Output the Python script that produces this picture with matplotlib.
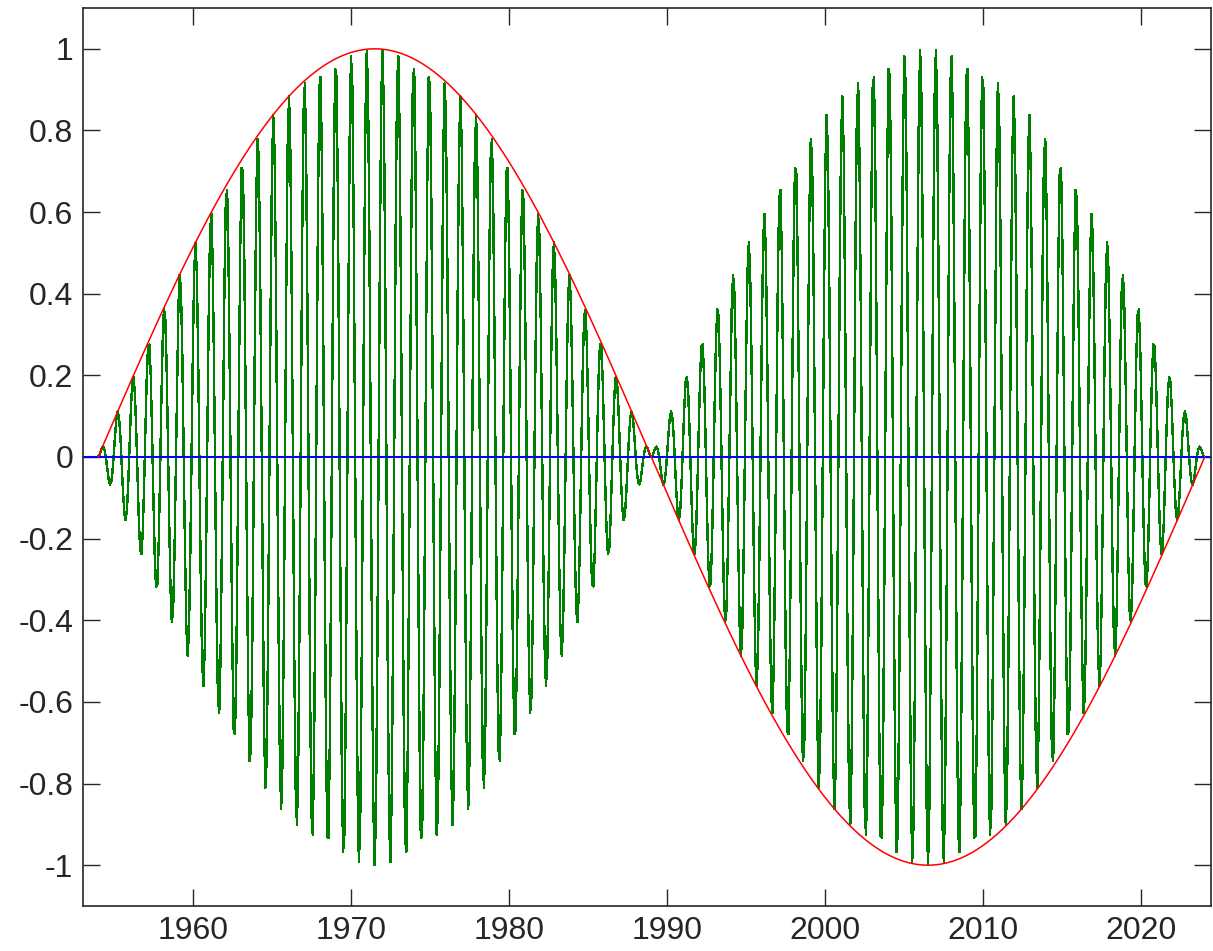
import numpy as np
import matplotlib
matplotlib.use("Agg")
import matplotlib.pyplot as plt

# time axis and signal parameters
t_start, t_end = 1954.0, 2024.0
step = 1.0 / 12.0                  # monthly samples
envelope_period = 70.0             # years
carrier_period = 70.0 / 71.0       # years

x_ticks = [1960, 1970, 1980, 1990, 2000, 2010, 2020]
y_ticks = [-1, -0.8, -0.6, -0.4, -0.2, 0, 0.2, 0.4, 0.6, 0.8, 1]
y_labels = ["-1", "-0.8", "-0.6", "-0.4", "-0.2", "0", "0.2", "0.4", "0.6", "0.8", "1"]

t = np.arange(t_start, t_end + step / 2, step)
envelope = np.sin(2 * np.pi * (t - t_start) / envelope_period)
signal = envelope * np.sin(2 * np.pi * (t - t_start) / carrier_period)

plt.rcParams["font.family"] = ["Liberation Sans", "DejaVu Sans"]
plt.rcParams["axes.unicode_minus"] = False

fig = plt.figure(figsize=(12.13, 9.51), dpi=100)
ax = fig.add_axes([83 / 1213, 45 / 951, 1128 / 1213, 898 / 951])

ax.plot(t, signal, color=(0, 0.5, 0), lw=1.0, antialiased=False)
ax.axhline(0, color=(0, 0, 1), lw=1.5)
ax.plot(t, envelope, color=(1, 0, 0), lw=1.1)

ax.set_xlim(1953.05, 2024.4)
ax.set_ylim(-1.1, 1.1)
ax.set_xticks(x_ticks)
ax.set_xticklabels([str(v) for v in x_ticks])
ax.set_yticks(y_ticks)
ax.set_yticklabels(y_labels)
ax.tick_params(direction="in", length=12, width=1, top=True, right=True,
               labelsize=23, pad=7, colors="#262626")
for s in ax.spines.values():
    s.set_linewidth(1.2)
    s.set_color("#262626")

fig.savefig("out.png", dpi=100)
